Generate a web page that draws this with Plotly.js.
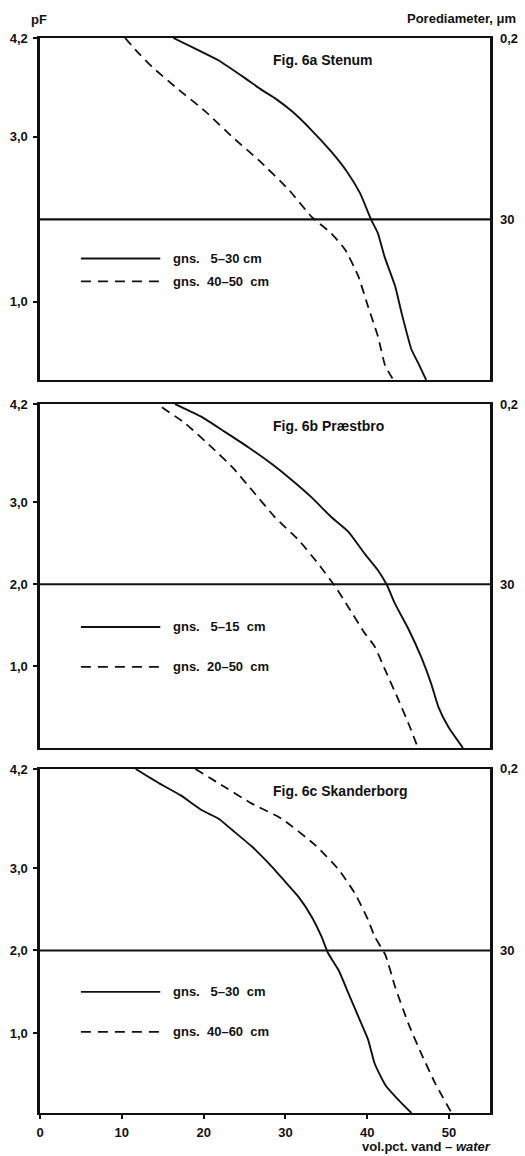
<!DOCTYPE html>
<html>
<head>
<meta charset="utf-8">
<script src="https://cdn.plot.ly/plotly-3.0.1.min.js"></script>
<style>html,body{margin:0;padding:0;background:#fff;}#chart{width:525px;height:1156px;}</style>
</head>
<body>
<div id="chart"></div>
<script>
// ---- Data (vol.pct. water vs pF) ----
const panelTitles = ["Fig. 6a Stenum", "Fig. 6b Præstbro", "Fig. 6c Skanderborg"];
const legendLabels = [
  ["gns.   5–30 cm", "gns.  40–50  cm"],
  ["gns.   5–15  cm", "gns.  20–50  cm"],
  ["gns.   5–30  cm", "gns.  40–60  cm"]
];

// Fig 6a Stenum
const stenumTopX   = [16.3, 19.4, 21.8, 25.1, 27.1, 28.7, 30.8, 33.2, 35.6, 37.5, 39.1, 40.5, 41.3, 42.1, 43.4, 44.2, 45.4, 46.2, 47.2];
const stenumTopPF  = [4.2, 4.05, 3.93, 3.71, 3.57, 3.47, 3.31, 3.08, 2.82, 2.58, 2.32, 1.99, 1.83, 1.55, 1.19, 0.86, 0.42, 0.26, 0.05];
const stenumSubX   = [10.4, 12.1, 13.7, 16.5, 20.2, 23.5, 26.7, 30.4, 33.2, 35.6, 37.3, 38.9, 40.1, 41.3, 42.2, 43.2];
const stenumSubPF  = [4.2, 4.01, 3.85, 3.61, 3.31, 3.0, 2.72, 2.36, 2.03, 1.83, 1.63, 1.31, 0.94, 0.58, 0.22, 0.05];

// Fig 6b Præstbro
const praestTopX   = [16.5, 19.8, 22.6, 25.5, 28.3, 30.8, 33.2, 35.6, 37.7, 39.7, 41.3, 42.4, 43.4, 45.0, 46.6, 47.8, 48.7, 49.9, 51.7];
const praestTopPF  = [4.2, 4.04, 3.86, 3.67, 3.47, 3.27, 3.06, 2.82, 2.64, 2.37, 2.17, 1.99, 1.76, 1.46, 1.11, 0.79, 0.5, 0.26, 0.0];
const praestSubX   = [14.9, 17.8, 21.0, 23.5, 25.9, 28.7, 31.6, 34.0, 36.1, 37.7, 39.7, 40.9, 42.2, 43.8, 45.2, 46.2];
const praestSubPF  = [4.16, 3.96, 3.67, 3.43, 3.15, 2.82, 2.54, 2.25, 1.97, 1.72, 1.4, 1.24, 0.95, 0.59, 0.26, 0.0];

// Fig 6c Skanderborg
const skandTopX    = [11.7, 14.5, 17.2, 19.8, 21.8, 23.5, 25.9, 28.3, 30.0, 31.6, 33.2, 34.4, 35.2, 36.5, 37.7, 38.9, 40.1, 40.9, 42.2, 43.8, 45.4];
const skandTopPF   = [4.2, 4.03, 3.88, 3.7, 3.6, 3.46, 3.26, 3.02, 2.83, 2.65, 2.41, 2.17, 1.97, 1.76, 1.48, 1.2, 0.92, 0.63, 0.37, 0.19, 0.03];
const skandSubX    = [19.0, 21.8, 25.9, 29.5, 33.6, 36.5, 38.5, 40.1, 40.9, 42.2, 43.4, 45.0, 46.6, 48.3, 50.3];
const skandSubPF   = [4.2, 4.03, 3.78, 3.6, 3.28, 2.98, 2.69, 2.37, 2.17, 1.95, 1.56, 1.12, 0.75, 0.39, 0.03];

const refPF = 2.0;               // pF 2,0 = 30 µm pore diameter
const xTickVals = [0, 10, 20, 30, 40, 50];
const xTickText = ["0", "10", "20", "30", "40", "50"];
const yTickValsA = [4.2, 3.0, 1.0];
const yTickTextA = ["4,2", "3,0", "1,0"];
const yTickValsBC = [4.2, 3.0, 2.0, 1.0];
const yTickTextBC = ["4,2", "3,0", "2,0", "1,0"];
const rightLabels = ["0,2", "30"];

// ---- Build ----
const FONT = "Liberation Sans, Arial, Helvetica, sans-serif";
const solid = {color: "#111", width: 1.9, shape: "spline", smoothing: 0.5};
const dashed = {color: "#111", width: 1.8, dash: "9px,6px", shape: "spline", smoothing: 0.5};
const legSolid = {color: "#111", width: 1.9};
const legDashed = {color: "#111", width: 1.8, dash: "10px,7px"};

const series = [
  [stenumTopX, stenumTopPF, stenumSubX, stenumSubPF],
  [praestTopX, praestTopPF, praestSubX, praestSubPF],
  [skandTopX, skandTopPF, skandSubX, skandSubPF]
];
const axSuffix = ["", "2", "3"];
const traces = [];
series.forEach((s, i) => {
  const xa = "x" + axSuffix[i], ya = "y" + axSuffix[i];
  traces.push({x: s[0], y: s[1], xaxis: xa, yaxis: ya, mode: "lines", line: solid, showlegend: false, hoverinfo: "skip"});
  traces.push({x: s[2], y: s[3], xaxis: xa, yaxis: ya, mode: "lines", line: dashed, showlegend: false, hoverinfo: "skip"});
});

const domains = [[0.6819, 1], [0.3395, 0.6595], [0, 0.32]];
const yRanges = [[0.05, 4.2], [0, 4.2], [0.03, 4.2]];
const tickFont = {family: FONT, size: 13, color: "#111", weight: "bold"};
const textFont = {family: FONT, size: 13, color: "#111", weight: "bold"};
const titleFont = {family: FONT, size: 14, color: "#111", weight: "bold"};

const layout = {
  width: 525, height: 1156,
  margin: {l: 40, r: 35, t: 38, b: 43},
  paper_bgcolor: "#fff", plot_bgcolor: "#fff",
  showlegend: false,
  font: {family: FONT, color: "#111"},
  shapes: [], annotations: []
};

for (let i = 0; i < 3; i++) {
  const sx = axSuffix[i];
  const xk = "xaxis" + sx, yk = "yaxis" + sx;
  const isBottom = (i === 2);
  layout[xk] = {
    anchor: "y" + sx, domain: [0, 1], range: [0, 55],
    showgrid: false, zeroline: false,
    showline: true, linecolor: "#111", linewidth: 2.4, mirror: true,
    tickvals: xTickVals, ticktext: xTickText,
    showticklabels: isBottom,
    ticks: isBottom ? "outside" : "", ticklen: 4, tickwidth: 2, tickcolor: "#111",
    ticklabelstandoff: 2,
    tickfont: tickFont, fixedrange: true
  };
  layout[yk] = {
    anchor: "x" + sx, domain: domains[i], range: yRanges[i],
    showgrid: false, zeroline: false,
    showline: true, linecolor: "#111", linewidth: 2.6, mirror: true,
    tickvals: i === 0 ? yTickValsA : yTickValsBC,
    ticktext: i === 0 ? yTickTextA : yTickTextBC,
    ticks: "outside", ticklen: 4, tickwidth: 2, tickcolor: "#111",
    ticklabelstandoff: 3,
    tickfont: tickFont, fixedrange: true
  };
  const yl1 = i === 0 ? 0.355 : 0.352;
  const yl2 = i === 0 ? 0.288 : 0.236;
  // reference line pF 2,0
  layout.shapes.push({type: "line", xref: "x" + sx + " domain", yref: "y" + sx, x0: 0, x1: 1, y0: refPF, y1: refPF, line: {color: "#111", width: 2.2}});
  // legend samples
  layout.shapes.push({type: "line", xref: "x" + sx, yref: "y" + sx + " domain", x0: 5.0, x1: 14.7, y0: yl1, y1: yl1, line: legSolid});
  layout.shapes.push({type: "line", xref: "x" + sx, yref: "y" + sx + " domain", x0: 5.0, x1: 14.7, y0: yl2, y1: yl2, line: legDashed});
  layout.annotations.push({xref: "x" + sx, yref: "y" + sx + " domain", x: 16.0, y: yl1, xanchor: "left", yanchor: "middle", showarrow: false, text: legendLabels[i][0], font: textFont});
  layout.annotations.push({xref: "x" + sx, yref: "y" + sx + " domain", x: 16.0, y: yl2, xanchor: "left", yanchor: "middle", showarrow: false, text: legendLabels[i][1], font: textFont});
  // panel title
  layout.annotations.push({xref: "x" + sx, yref: "y" + sx + " domain", x: 28.2, y: 0.935, xanchor: "left", yanchor: "middle", showarrow: false, text: panelTitles[i], font: titleFont});
  // right-side pore diameter labels
  layout.annotations.push({xref: "paper", yref: "y" + sx, x: 1, y: 4.2, xanchor: "left", yanchor: "middle", xshift: 8, showarrow: false, text: rightLabels[0], font: tickFont});
  layout.annotations.push({xref: "paper", yref: "y" + sx, x: 1, y: refPF, xanchor: "left", yanchor: "middle", xshift: 8, showarrow: false, text: rightLabels[1], font: tickFont});
}

// axis titles
layout.annotations.push({xref: "paper", yref: "paper", x: 0, y: 1, xanchor: "center", yanchor: "bottom", xshift: -1, yshift: 9, showarrow: false, text: "pF", font: {family: FONT, size: 13, color: "#111", weight: "bold"}});
layout.annotations.push({xref: "paper", yref: "paper", x: 1, y: 1, xanchor: "right", yanchor: "bottom", xshift: 28, yshift: 10, showarrow: false, text: "Porediameter, μm", font: {family: FONT, size: 13, color: "#111", weight: "bold"}});
layout.annotations.push({xref: "paper", yref: "paper", x: 1, y: 0, xanchor: "right", yanchor: "top", xshift: 3, yshift: -24, showarrow: false, text: "vol.pct. vand – <i>water</i>", font: {family: FONT, size: 13, color: "#111", weight: "bold"}});

Plotly.newPlot("chart", traces, layout, {staticPlot: true, displayModeBar: false});
</script>
</body>
</html>
